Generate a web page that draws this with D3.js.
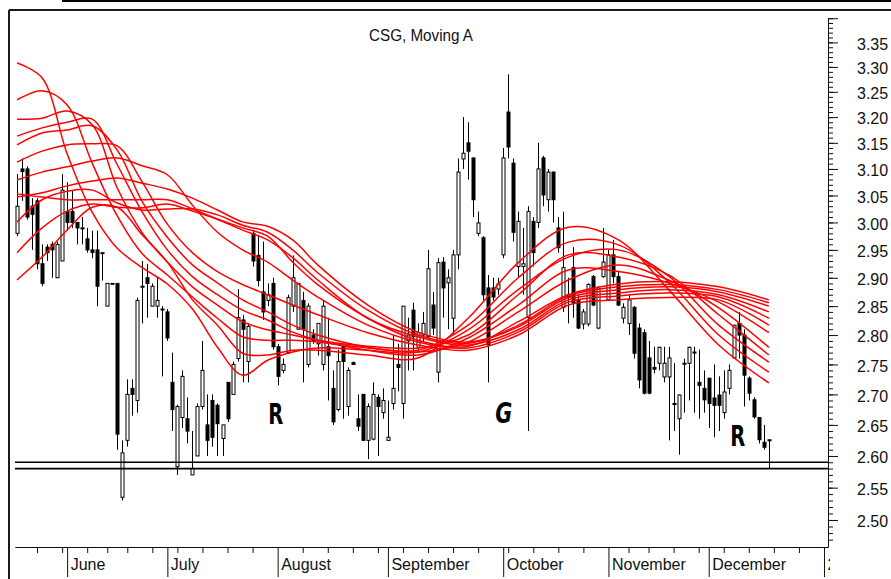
<!DOCTYPE html>
<html>
<head>
<meta charset="utf-8">
<title>CSG, Moving A</title>
<script src="https://cdn.jsdelivr.net/npm/d3@7"></script>
<style>
  body { margin: 0; background: #fff; }
  svg { display: block; }
  text { font-family: "Liberation Sans", Arial, sans-serif; fill: #111; }
</style>
</head>
<body>
<div id="chart"></div>
<script>
const width = 891;
const height = 579;

// daily prices, oldest first (late May .. mid December)
const open = [
  2.98, 3.10, 3.10, 3.03, 3.04, 2.925, 2.955, 2.96, 2.90, 2.93,
  3.02, 3.02, 3.00, 2.99, 2.97, 2.95, 2.95, 2.945, 2.85, 2.89,
  2.89, 2.535, 2.625, 2.71, 2.69, 2.885, 2.90, 2.85, 2.85, 2.845,
  2.84, 2.72, 2.583, 2.662, 2.66, 2.57, 2.60, 2.68, 2.65, 2.69,
  2.682, 2.628, 2.72, 2.70, 2.76, 2.826, 2.755, 2.98, 2.94, 2.875,
  2.86, 2.89, 2.78, 2.74, 2.77, 2.85, 2.81, 2.86, 2.75, 2.80,
  2.785, 2.75, 2.78, 2.71, 2.675, 2.78, 2.68, 2.753, 2.66, 2.70,
  2.625, 2.627, 2.695, 2.67, 2.625, 2.685, 2.75, 2.685, 2.79, 2.843,
  2.779, 2.80, 2.797, 2.852, 2.737, 2.928, 2.891, 2.829, 2.941, 3.119,
  3.15, 3.121, 2.98, 2.972, 2.882, 2.882, 2.88, 2.941, 3.21, 3.111,
  2.92, 2.92, 2.83, 3.002, 3.00, 3.121, 3.042, 3.094, 2.99, 2.848,
  2.87, 2.918, 2.861, 2.819, 2.819, 2.902, 2.812, 2.902, 2.861, 2.941,
  2.902, 2.829, 2.82, 2.848, 2.812, 2.804, 2.761, 2.745, 2.752, 2.729,
  2.729, 2.685, 2.66, 2.752, 2.752, 2.771, 2.72, 2.71, 2.727, 2.694,
  2.699, 2.67, 2.71, 2.761, 2.82, 2.80, 2.727, 2.691, 2.662, 2.622,
  2.626
];
const high = [
  3.09, 3.12, 3.105, 3.045, 3.045, 2.96, 2.96, 2.965, 2.965, 3.09,
  3.075, 3.06, 3.00, 3.01, 2.99, 2.985, 2.985, 2.945, 2.89, 2.89,
  2.89, 2.625, 2.725, 2.725, 2.865, 2.93, 2.925, 2.89, 2.90, 2.85,
  2.845, 2.77, 2.683, 2.74, 2.695, 2.64, 2.685, 2.79, 2.70, 2.70,
  2.685, 2.65, 2.72, 2.755, 2.88, 2.835, 2.82, 2.985, 2.975, 2.965,
  2.89, 2.90, 2.785, 2.76, 2.87, 2.94, 2.89, 2.875, 2.855, 2.81,
  2.82, 2.86, 2.83, 2.74, 2.775, 2.78, 2.745, 2.755, 2.70, 2.70,
  2.685, 2.72, 2.70, 2.71, 2.69, 2.80, 2.785, 2.85, 2.83, 2.856,
  2.82, 2.84, 2.95, 2.875, 2.935, 2.937, 2.915, 2.95, 3.12, 3.20,
  3.19, 3.121, 3.02, 2.975, 2.905, 2.90, 2.90, 3.14, 3.285, 3.12,
  3.02, 2.99, 3.03, 3.01, 3.15, 3.125, 3.10, 3.095, 3.01, 3.02,
  2.90, 2.955, 2.87, 2.845, 2.89, 2.905, 2.885, 2.99, 2.95, 2.968,
  2.91, 2.855, 2.87, 2.85, 2.82, 2.81, 2.79, 2.78, 2.78, 2.78,
  2.78, 2.752, 2.70, 2.76, 2.78, 2.78, 2.775, 2.74, 2.727, 2.75,
  2.73, 2.74, 2.75, 2.817, 2.84, 2.81, 2.73, 2.695, 2.662, 2.65,
  2.626
];
const low = [
  2.975, 3.04, 3.005, 2.95, 2.915, 2.885, 2.93, 2.90, 2.90, 2.93,
  2.985, 2.99, 2.96, 2.96, 2.945, 2.935, 2.85, 2.895, 2.85, 2.89,
  2.61, 2.53, 2.615, 2.665, 2.67, 2.82, 2.83, 2.85, 2.83, 2.73,
  2.79, 2.64, 2.57, 2.645, 2.62, 2.57, 2.60, 2.675, 2.60, 2.615,
  2.60, 2.60, 2.655, 2.70, 2.755, 2.72, 2.72, 2.92, 2.885, 2.826,
  2.85, 2.775, 2.715, 2.735, 2.77, 2.84, 2.81, 2.72, 2.745, 2.785,
  2.765, 2.74, 2.69, 2.65, 2.672, 2.66, 2.665, 2.75, 2.64, 2.625,
  2.595, 2.625, 2.60, 2.66, 2.625, 2.675, 2.705, 2.66, 2.74, 2.74,
  2.775, 2.79, 2.795, 2.80, 2.72, 2.83, 2.81, 2.80, 2.915, 3.10,
  3.08, 3.01, 2.975, 2.86, 2.72, 2.86, 2.87, 2.935, 3.12, 2.965,
  2.90, 2.87, 2.64, 2.92, 2.99, 3.03, 3.02, 3.00, 2.945, 2.84,
  2.82, 2.83, 2.81, 2.81, 2.815, 2.85, 2.81, 2.90, 2.86, 2.89,
  2.85, 2.82, 2.80, 2.76, 2.71, 2.70, 2.70, 2.735, 2.74, 2.72,
  2.625, 2.64, 2.602, 2.67, 2.69, 2.67, 2.66, 2.67, 2.645, 2.63,
  2.64, 2.66, 2.70, 2.76, 2.76, 2.68, 2.69, 2.66, 2.62, 2.61,
  2.58
];
const close = [
  3.03, 3.095, 3.01, 3.015, 2.925, 2.89, 2.945, 2.95, 2.96, 3.06,
  3.00, 3.00, 2.99, 2.99, 2.95, 2.945, 2.885, 2.945, 2.89, 2.89,
  2.635, 2.605, 2.70, 2.70, 2.86, 2.885, 2.89, 2.885, 2.86, 2.845,
  2.795, 2.675, 2.68, 2.73, 2.64, 2.58, 2.68, 2.74, 2.625, 2.63,
  2.652, 2.65, 2.66, 2.75, 2.83, 2.81, 2.815, 2.93, 2.895, 2.84,
  2.87, 2.78, 2.73, 2.75, 2.865, 2.90, 2.89, 2.81, 2.85, 2.79,
  2.82, 2.85, 2.765, 2.655, 2.755, 2.755, 2.74, 2.75, 2.648, 2.625,
  2.68, 2.70, 2.68, 2.69, 2.63, 2.71, 2.745, 2.85, 2.80, 2.797,
  2.804, 2.82, 2.916, 2.812, 2.927, 2.882, 2.90, 2.941, 3.094, 3.13,
  3.134, 3.042, 2.999, 2.87, 2.783, 2.866, 2.889, 3.121, 3.142, 2.982,
  3.002, 2.925, 3.02, 2.945, 3.10, 3.051, 3.094, 3.042, 2.954, 2.918,
  2.865, 2.856, 2.812, 2.84, 2.888, 2.852, 2.882, 2.928, 2.941, 2.902,
  2.852, 2.848, 2.861, 2.769, 2.724, 2.702, 2.702, 2.742, 2.779, 2.752,
  2.761, 2.684, 2.699, 2.752, 2.779, 2.77, 2.715, 2.691, 2.685, 2.682,
  2.682, 2.704, 2.74, 2.817, 2.80, 2.732, 2.702, 2.663, 2.626, 2.614,
  2.626
];

// moving averages, read on these trading days
const maDays = [0, 5, 10, 15, 20, 25, 30, 35, 40, 45, 50, 55, 60, 70, 80, 90, 100, 110, 120, 130, 140, 150];
const maA = [3.308, 3.278, 3.129, 3.019, 2.953, 2.918, 2.889, 2.845, 2.779, 2.732, 2.757, 2.771, 2.778, 2.774, 2.771, 2.809, 2.879, 2.937, 2.950, 2.903, 2.817, 2.754];
const maB = [3.234, 3.252, 3.224, 3.111, 3.012, 2.943, 2.905, 2.866, 2.829, 2.797, 2.791, 2.791, 2.788, 2.778, 2.774, 2.817, 2.900, 2.964, 2.959, 2.893, 2.800, 2.737];
const maC = [3.196, 3.198, 3.212, 3.185, 3.064, 2.981, 2.928, 2.884, 2.852, 2.823, 2.809, 2.800, 2.791, 2.781, 2.778, 2.800, 2.870, 2.941, 2.937, 2.905, 2.835, 2.766];
const maD = [3.163, 3.179, 3.190, 3.196, 3.108, 3.019, 2.950, 2.902, 2.870, 2.843, 2.826, 2.805, 2.791, 2.774, 2.766, 2.795, 2.852, 2.914, 2.911, 2.891, 2.857, 2.804];
const maE = [3.146, 3.169, 3.175, 3.183, 3.136, 3.038, 2.973, 2.923, 2.891, 2.861, 2.840, 2.817, 2.800, 2.779, 2.771, 2.788, 2.840, 2.896, 2.923, 2.896, 2.847, 2.779];
const maF = [2.896, 2.937, 2.986, 3.028, 3.028, 2.977, 2.928, 2.861, 2.817, 2.769, 2.766, 2.774, 2.774, 2.766, 2.761, 2.829, 2.927, 2.991, 2.968, 2.879, 2.783, 2.719];
const maG = [3.113, 3.134, 3.146, 3.148, 3.144, 3.075, 2.997, 2.945, 2.911, 2.888, 2.870, 2.852, 2.835, 2.804, 2.783, 2.774, 2.800, 2.852, 2.861, 2.865, 2.861, 2.817];
const maH = [3.079, 3.094, 3.104, 3.115, 3.121, 3.106, 3.089, 3.032, 2.982, 2.950, 2.928, 2.896, 2.866, 2.817, 2.788, 2.778, 2.805, 2.857, 2.868, 2.873, 2.866, 2.829];
const maI = [3.053, 3.047, 3.042, 3.042, 3.042, 3.042, 3.042, 3.025, 3.006, 2.986, 2.968, 2.936, 2.896, 2.829, 2.797, 2.783, 2.809, 2.861, 2.873, 2.879, 2.870, 2.840];
const maJ = [3.047, 3.055, 3.068, 3.077, 3.083, 3.073, 3.062, 3.045, 3.023, 3.001, 2.993, 2.968, 2.923, 2.852, 2.805, 2.788, 2.814, 2.865, 2.879, 2.884, 2.875, 2.850];
const maK = [3.001, 3.042, 3.058, 3.060, 3.036, 3.023, 3.025, 3.025, 3.014, 2.995, 2.982, 2.950, 2.909, 2.843, 2.800, 2.786, 2.817, 2.868, 2.884, 2.888, 2.879, 2.856];
const maL = [2.945, 2.990, 3.021, 3.034, 3.028, 3.027, 3.034, 3.021, 3.006, 2.990, 2.975, 2.928, 2.888, 2.829, 2.791, 2.781, 2.823, 2.870, 2.889, 2.893, 2.884, 2.861];
const averages = [maA, maB, maC, maD, maE, maF, maG, maH, maI, maJ, maK, maL];

// x axis: first trading day of each month, and week ticks
const monthStart = [10, 30, 52, 74, 97, 118, 138, 161];
const monthNames = ["June", "July", "August", "September", "October", "November", "December", "2009"];
const weekTicks = [4, 9, 14, 18, 22, 27, 32, 37, 42, 47, 57, 62, 67, 72, 77, 82, 87, 92, 98, 103, 108, 113, 122, 126, 131, 136, 141, 146, 151, 156];

const supportLevels = [2.59, 2.58];
const notes = [
  { text: "R", day: 51.6, price: 2.651, italic: false, w: 15 },
  { text: "G", day: 97.1, price: 2.653, italic: true, w: 17 },
  { text: "R", day: 143.8, price: 2.616, italic: false, w: 15 }
];

const svg = d3.select("#chart").append("svg")
  .attr("width", width)
  .attr("height", height);

svg.append("rect").attr("width", width).attr("height", height).attr("fill", "#fff");

// window frame
svg.append("rect").attr("x", 62).attr("y", 0).attr("width", width - 62).attr("height", 2).attr("fill", "#000");
svg.append("line").attr("x1", 9).attr("x2", width).attr("y1", 10).attr("y2", 10)
  .attr("stroke", "#1a1a1a").attr("stroke-width", 2);
svg.append("line").attr("x1", 9).attr("x2", 9).attr("y1", 10).attr("y2", height)
  .attr("stroke", "#1a1a1a").attr("stroke-width", 2);

const x = d3.scaleLinear().domain([-0.4, 161.8]).range([15, 828]);
const y = d3.scaleLog().domain([2.46, 3.40]).range([546.3, 18.2]);

svg.append("text")
  .attr("x", 421).attr("y", 41)
  .attr("text-anchor", "middle")
  .attr("textLength", 104)
  .attr("lengthAdjust", "spacingAndGlyphs")
  .style("font-size", "16px")
  .text("CSG, Moving A");

svg.append("clipPath").attr("id", "plot")
  .append("rect").attr("x", 15).attr("y", 11).attr("width", 813).attr("height", 536);

// candles
const days = d3.range(open.length);
const candles = svg.append("g").attr("clip-path", "url(#plot)");

candles.selectAll("line.wick")
  .data(days)
  .enter()
  .append("line")
  .attr("class", "wick")
  .attr("x1", (d) => Math.round(x(d)) + 0.5)
  .attr("x2", (d) => Math.round(x(d)) + 0.5)
  .attr("y1", (d) => y(high[d]))
  .attr("y2", (d) => y(low[d]))
  .attr("stroke", "#000")
  .attr("stroke-width", 1);

candles.selectAll("rect.body")
  .data(days)
  .enter()
  .append("rect")
  .attr("class", "body")
  .attr("x", (d) => Math.round(x(d)) - 1)
  .attr("width", 3)
  .attr("y", (d) => y(Math.max(open[d], close[d])))
  .attr("height", (d) => Math.max(1, Math.abs(y(open[d]) - y(close[d]))))
  .attr("fill", (d) => close[d] < open[d] ? "#000" : "#fff")
  .attr("stroke", "#000")
  .attr("stroke-width", 1);

// support lines
svg.selectAll("line.support")
  .data(supportLevels)
  .enter()
  .append("line")
  .attr("class", "support")
  .attr("x1", 15).attr("x2", 828)
  .attr("y1", (d) => y(d)).attr("y2", (d) => y(d))
  .attr("stroke", "#000")
  .attr("stroke-width", 1.6);

// moving averages
const maLine = d3.line()
  .x((d, i) => x(maDays[i]))
  .y((d) => y(d))
  .curve(d3.curveCatmullRom.alpha(0.5));

svg.append("g").attr("clip-path", "url(#plot)")
  .selectAll("path")
  .data(averages)
  .enter()
  .append("path")
  .attr("d", maLine)
  .attr("fill", "none")
  .attr("stroke", "#ff0000")
  .attr("stroke-width", 1.5);

// R / G / R marks
svg.selectAll("text.note")
  .data(notes)
  .enter()
  .append("text")
  .attr("class", "note")
  .attr("x", (d) => x(d.day))
  .attr("y", (d) => y(d.price))
  .attr("text-anchor", "middle")
  .attr("textLength", (d) => d.w)
  .attr("lengthAdjust", "spacingAndGlyphs")
  .style("font-family", "'DejaVu Sans', sans-serif")
  .style("font-weight", "bold")
  .style("font-style", (d) => d.italic ? "italic" : "normal")
  .style("font-size", "28px")
  .style("fill", "#000")
  .text((d) => d.text);

// right price axis
const minorTicks = d3.range(247, 341).map((d) => d / 100);
const majorTicks = d3.range(250, 341, 5).map((d) => d / 100);

svg.append("g")
  .attr("transform", "translate(828,0)")
  .call(d3.axisRight(y).tickValues(minorTicks).tickSize(5).tickSizeOuter(0).tickFormat(""))
  .attr("color", "#111");

const yAxis = svg.append("g")
  .attr("transform", "translate(828,0)")
  .call(d3.axisRight(y).tickValues(majorTicks).tickSize(10).tickPadding(19).tickSizeOuter(0)
    .tickFormat((d) => d > 3.39 ? "" : d3.format(".2f")(d)))
  .attr("color", "#111")
  .attr("font-size", 16)
  .attr("font-family", "'Liberation Sans', Arial, sans-serif");
yAxis.selectAll("text").attr("dy", "0.42em");

// bottom date axis
svg.append("g")
  .attr("transform", "translate(0,547)")
  .call(d3.axisBottom(x).tickValues(weekTicks).tickSize(6).tickSizeOuter(0).tickFormat(""))
  .attr("color", "#111");

svg.append("clipPath").attr("id", "dates")
  .append("rect").attr("x", 0).attr("y", 0).attr("width", 830).attr("height", height);

const xAxis = svg.append("g")
  .attr("transform", "translate(0,547)")
  .attr("clip-path", "url(#dates)")
  .call(d3.axisBottom(x).tickValues(monthStart).tickSize(30).tickSizeOuter(0)
    .tickFormat((d, i) => monthNames[i]))
  .attr("color", "#111")
  .attr("font-size", 16)
  .attr("font-family", "'Liberation Sans', Arial, sans-serif");
xAxis.selectAll("text")
  .attr("text-anchor", "start")
  .attr("x", 3)
  .attr("y", 12)
  .attr("dy", "0.71em");
</script>
</body>
</html>
